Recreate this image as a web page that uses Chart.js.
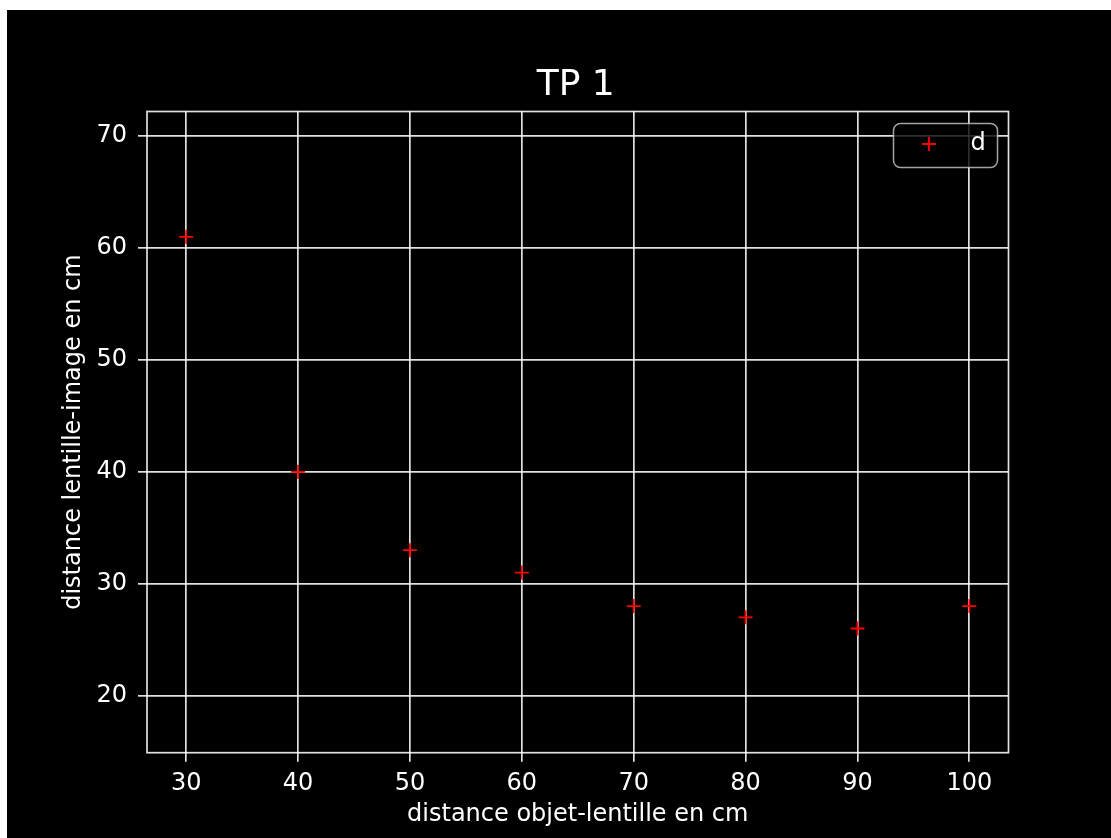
<!DOCTYPE html>
<html>
<head>
<meta charset="utf-8">
<script src="https://cdn.jsdelivr.net/npm/chart.js@4.4.1/dist/chart.umd.min.js"></script>
<style>
  html, body { margin: 0; padding: 0; background: #fff; }
  #wrap { position: absolute; left: 7px; top: 10px; width: 1104px; height: 828px; background: #000; }
</style>
</head>
<body>
<div id="wrap"><canvas id="tp-chart" width="1104" height="828"></canvas></div>
<script>
// mesures TP 1
const objetLentille = [30, 40, 50, 60, 70, 80, 90, 100];
const lentilleImage = [61, 40, 33, 31, 28, 27, 26, 28];
const xTicks = [30, 40, 50, 60, 70, 80, 90, 100];
const yTicks = [20, 30, 40, 50, 60, 70];
const seriesLabel = 'd';
const chartTitle = 'TP 1';

const FONT = "'DejaVu Sans', sans-serif";
const GRID = 'rgba(255,255,255,0.88)';

// frame, title centred on the axes, and a matplotlib-like legend box
const framePlugin = {
  id: 'frame',
  beforeDatasetsDraw(chart) {
    const { ctx, chartArea: a } = chart;
    ctx.save();
    ctx.strokeStyle = GRID;
    ctx.lineWidth = 1.7;
    ctx.strokeRect(a.left, a.top, a.right - a.left, a.bottom - a.top);
    ctx.restore();
  },
  afterDraw(chart) {
    const { ctx, chartArea: a } = chart;
    ctx.save();
    ctx.fillStyle = '#fff';
    ctx.font = '36px ' + FONT;
    ctx.textAlign = 'center';
    ctx.textBaseline = 'middle';
    ctx.fillText(chartTitle, (a.left + a.right) / 2 - 2, a.top - 26);

    const x = a.right - 115, y = a.top + 12, w = 104, h = 44, r = 7;
    ctx.beginPath();
    ctx.roundRect(x, y, w, h, r);
    ctx.fillStyle = 'rgba(0,0,0,0.8)';
    ctx.fill();
    ctx.strokeStyle = 'rgba(204,204,204,0.8)';
    ctx.lineWidth = 1.5;
    ctx.stroke();
    // marker
    const mx = x + 35.5, my = y + 20.5;
    ctx.strokeStyle = 'red';
    ctx.lineWidth = 1.8;
    ctx.beginPath();
    ctx.moveTo(mx - 7, my); ctx.lineTo(mx + 7, my);
    ctx.moveTo(mx, my - 7); ctx.lineTo(mx, my + 7);
    ctx.stroke();
    ctx.fillStyle = '#fff';
    ctx.font = '24px ' + FONT;
    ctx.textAlign = 'left';
    ctx.fillText(chart.data.datasets[0].label, x + 77, my);
    ctx.restore();
  }
};

const canvas = document.getElementById('tp-chart');
new Chart(canvas.getContext('2d'), {
  type: 'scatter',
  data: {
    datasets: [{
      label: seriesLabel,
      data: objetLentille.map((v, i) => ({ x: v, y: lentilleImage[i] })),
      pointStyle: 'cross',
      pointRadius: 7,
      pointHoverRadius: 7,
      borderColor: 'red',
      backgroundColor: 'red',
      pointBorderWidth: 1.8,
    }],
  },
  options: {
    responsive: false,
    animation: false,
    layout: { padding: { left: 0, right: 102.5, top: 101.5, bottom: 0 } },
    plugins: {
      legend: { display: false },
      tooltip: { enabled: false },
      title: { display: false },
    },
    scales: {
      x: {
        type: 'linear',
        min: 26.5,
        max: 103.5,
        afterBuildTicks: (s) => { s.ticks = xTicks.map(v => ({ value: v })); },
        afterFit: (s) => { s.height = 85.3; },
        ticks: {
          color: '#fff',
          font: { family: FONT, size: 24 },
          padding: 8,
          callback: (v) => String(v),
        },
        grid: { color: GRID, lineWidth: 1.7, tickLength: 9, tickColor: GRID },
        border: { display: false },
        title: {
          display: true,
          text: 'distance objet-lentille en cm',
          color: '#fff',
          font: { family: FONT, size: 24 },
          padding: { top: 0, bottom: 9 },
        },
      },
      y: {
        type: 'linear',
        min: 14.9,
        max: 72.2,
        afterBuildTicks: (s) => { s.ticks = yTicks.map(v => ({ value: v })); },
        afterFit: (s) => { s.width = 140; },
        ticks: {
          color: '#fff',
          font: { family: FONT, size: 24 },
          padding: 11,
          callback: (v) => String(v),
        },
        grid: { color: GRID, lineWidth: 1.7, tickLength: 9, tickColor: GRID },
        border: { display: false },
        title: {
          display: true,
          text: 'distance lentille-image en cm',
          color: '#fff',
          font: { family: FONT, size: 24 },
          padding: { top: 52, bottom: 0 },
        },
      },
    },
  },
  plugins: [framePlugin],
});
</script>
</body>
</html>
